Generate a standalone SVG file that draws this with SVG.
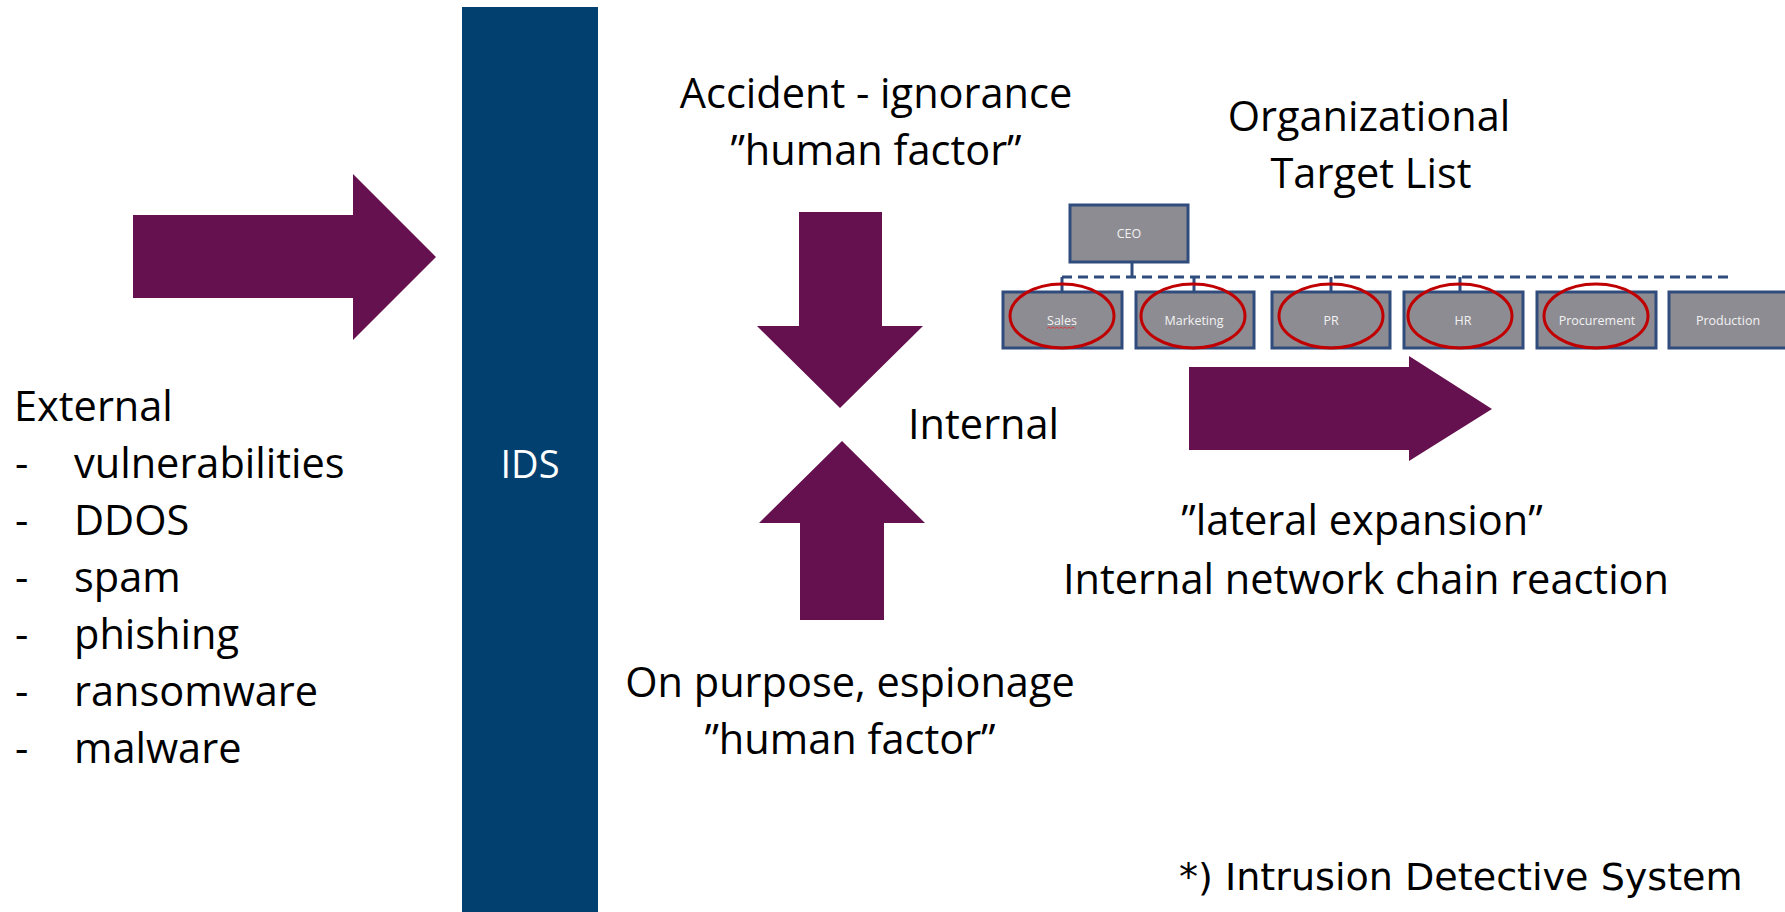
<svg xmlns="http://www.w3.org/2000/svg" width="1785" height="912" viewBox="0 0 1785 912">
<style>
.t{font-family:"Open Sans","Noto Sans",sans-serif;font-size:41.5px;fill:#000}
.c{text-anchor:middle}
.arrow{fill:#65104F}
.box{fill:#8E8C93;stroke:#2F4C7C;stroke-width:3}
.bt{font-family:"Open Sans","Noto Sans",sans-serif;font-size:12.5px;fill:#F2F2F2;text-anchor:middle}
.ring{fill:none;stroke:#C00000;stroke-width:3}
.ln{fill:none;stroke:#2F4C7C;stroke-width:3}
</style>
<rect width="1785" height="912" fill="#FFFFFF"/>

<g id="ids">
<rect x="462" y="7" width="136" height="905" fill="#02416F"/>
<text x="530" y="478" class="c" style="font-family:'Open Sans','Noto Sans',sans-serif;font-size:38px;fill:#FFFFFF">IDS</text>
</g>

<g id="external">
<text x="14" y="421" class="t">External</text>
<text class="t"><tspan x="15" y="478">-</tspan><tspan x="74" y="478">vulnerabilities</tspan></text>
<text class="t"><tspan x="15" y="535">-</tspan><tspan x="74" y="535">DDOS</tspan></text>
<text class="t"><tspan x="15" y="592">-</tspan><tspan x="74" y="592">spam</tspan></text>
<text class="t"><tspan x="15" y="649">-</tspan><tspan x="74" y="649">phishing</tspan></text>
<text class="t"><tspan x="15" y="706">-</tspan><tspan x="74" y="706">ransomware</tspan></text>
<text class="t"><tspan x="15" y="763">-</tspan><tspan x="74" y="763">malware</tspan></text>
</g>

<g id="accident">
<text x="876" y="108" class="t c">Accident - ignorance</text>
<text x="876" y="165" class="t c">”human factor”</text>
</g>

<g id="internal">
<text x="908" y="439" class="t">Internal</text>
</g>

<g id="purpose">
<text x="850" y="697" class="t c">On purpose, espionage</text>
<text x="850" y="754" class="t c">”human factor”</text>
</g>

<g id="org-title">
<text x="1369" y="131" class="t c">Organizational</text>
<text x="1371" y="188" class="t c">Target List</text>
</g>

<g id="lateral">
<text x="1362" y="535" class="t c">”lateral expansion”</text>
<text x="1366" y="594" class="t c">Internal network chain reaction</text>
</g>

<g id="footnote">
<text x="1179" y="890" style="font-family:'DejaVu Sans',Verdana,sans-serif;font-size:38.1px;fill:#000">*) Intrusion Detective System</text>
</g>

<g id="connectors">
<polygon class="arrow" points="133,215 353,215 353,174 436,257 353,340 353,298 133,298"/>
<polygon class="arrow" points="799,212 882,212 882,326 923,326 840,408 757,326 799,326"/>
<polygon class="arrow" points="800,620 884,620 884,523 925,523 842,441 759,523 800,523"/>
<polygon class="arrow" points="1189,367 1409,367 1409,356 1492,409 1409,461 1409,450 1189,450"/>
<line class="ln" x1="1132" y1="262" x2="1132" y2="277"/>
<line class="ln" x1="1062" y1="277" x2="1732" y2="277" stroke-dasharray="10 6"/>
<line class="ln" x1="1062" y1="277" x2="1062" y2="292"/>
<line class="ln" x1="1194" y1="277" x2="1194" y2="292"/>
<line class="ln" x1="1331" y1="277" x2="1331" y2="292"/>
<line class="ln" x1="1460" y1="277" x2="1460" y2="292"/>
</g>

<g id="ceo">
<rect class="box" x="1070" y="205" width="118" height="57"/>
<text x="1129" y="238" class="bt">CEO</text>
</g>
<g id="sales">
<rect class="box" x="1003" y="292" width="119" height="56"/>
<text x="1062" y="325" class="bt">Sales</text>
<path d="M1047,328.5 l2,-1.5 l2,1.5 l2,-1.5 l2,1.5 l2,-1.5 l2,1.5 l2,-1.5 l2,1.5 l2,-1.5 l2,1.5 l2,-1.5 l2,1.5 l2,-1.5 l2,1.5" fill="none" stroke="#E03030" stroke-width="0.8"/>
<ellipse class="ring" cx="1062" cy="316" rx="52" ry="32"/>
</g>
<g id="marketing">
<rect class="box" x="1136" y="292" width="118" height="56"/>
<text x="1194" y="325" class="bt">Marketing</text>
<ellipse class="ring" cx="1193" cy="316" rx="52" ry="32"/>
</g>
<g id="pr">
<rect class="box" x="1272" y="292" width="118" height="56"/>
<text x="1331" y="325" class="bt">PR</text>
<ellipse class="ring" cx="1331" cy="316" rx="52" ry="32"/>
</g>
<g id="hr">
<rect class="box" x="1404" y="292" width="119" height="56"/>
<text x="1463" y="325" class="bt">HR</text>
<ellipse class="ring" cx="1460" cy="316" rx="52" ry="32"/>
</g>
<g id="procurement">
<rect class="box" x="1537" y="292" width="119" height="56"/>
<text x="1597" y="325" class="bt">Procurement</text>
<ellipse class="ring" cx="1596" cy="316" rx="52" ry="32"/>
</g>
<g id="production">
<rect class="box" x="1669" y="292" width="119" height="56"/>
<text x="1728" y="325" class="bt">Production</text>
</g>
</svg>
